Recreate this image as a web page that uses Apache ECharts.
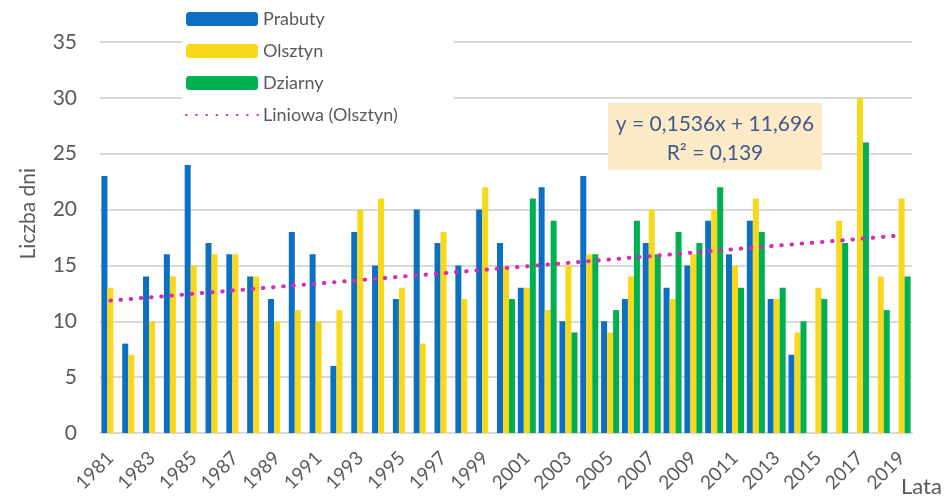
<!DOCTYPE html>
<html>
<head>
<meta charset="utf-8">
<script src="https://cdn.jsdelivr.net/npm/echarts@6/dist/echarts.min.js"></script>
<style>
  html, body { margin: 0; padding: 0; background: #fff; }
  #chart { width: 950px; height: 501px; }
</style>
</head>
<body>
<div id="chart"></div>
<script>
var years = [];
for (var y = 1981; y <= 2019; y++) years.push(String(y));

var prabuty = [23, 8, 14, 16, 24, 17, 16, 14, 12, 18, 16, 6, 18, 15, 12, 20, 17, 15, 20,
  17, 13, 22, 10, 23, 10, 12, 17, 13, 15, 19, 16, 19, 12, 7, null, null, null, null, null];
var olsztyn = [13, 7, 10, 14, 15, 16, 16, 14, 10, 11, 10, 11, 20, 21, 13, 8, 18, 12, 22,
  15, 13, 11, 15, 16, 9, 14, 20, 12, 16, 20, 15, 21, 12, 9, 13, 19, 30, 14, 21];
var dziarny = [null, null, null, null, null, null, null, null, null, null, null, null, null,
  null, null, null, null, null, null,
  12, 21, 19, 9, 16, 11, 19, 16, 18, 17, 22, 13, 18, 13, 10, 12, 17, 26, 11, 14];
// trend line read at first and last year
var trendEnds = [11.85, 17.69];

var trend = years.map(function (_, i) {
  if (i === 0) return trendEnds[0];
  if (i === years.length - 1) return trendEnds[1];
  return null;
});

var font = "Lato, 'Open Sans', sans-serif";
var myChart = echarts.init(document.getElementById("chart"));

function barSeries(name, data, color) {
  return {
    name: name,
    type: "bar",
    data: data,
    barWidth: 6,
    barGap: "0%",
    itemStyle: { color: color },
  };
}

var option = {
  animation: false,
  textStyle: { fontFamily: font },
  grid: { left: 100, right: 38, top: 42, bottom: 68 },
  legend: {
    orient: "vertical",
    left: 182,
    top: 4,
    padding: [6, 56, 10, 3],
    backgroundColor: "#fff",
    itemWidth: 72,
    itemHeight: 14,
    itemGap: 14,
    textStyle: { color: "#595959", fontSize: 18, fontFamily: font },
    data: [
      "Prabuty",
      "Olsztyn",
      "Dziarny",
      { name: "Liniowa (Olsztyn)", itemStyle: { opacity: 0 } },
    ],
  },
  xAxis: {
    type: "category",
    data: years,
    axisTick: { show: false },
    axisLine: { lineStyle: { color: "#d9d9d9", width: 2 } },
    axisLabel: {
      interval: 1,
      rotate: 45,
      color: "#595959",
      fontSize: 19,
      margin: 22,
    },
  },
  yAxis: {
    type: "value",
    min: 0,
    max: 35,
    interval: 5,
    axisLabel: { color: "#595959", fontSize: 21, margin: 23 },
    splitLine: { lineStyle: { color: "#d9d9d9", width: 2 } },
  },
  graphic: [
    {
      type: "text",
      left: 18,
      top: 168,
      rotation: Math.PI / 2,
      style: {
        text: "Liczba dni",
        fill: "#595959",
        font: "21px " + font,
      },
    },
    {
      type: "text",
      left: 901,
      top: 476,
      style: { text: "Lata", fill: "#595959", font: "22px " + font },
    },
    {
      type: "rect",
      x: 608,
      y: 103,
      z: 100,
      shape: { width: 214, height: 67 },
      style: { fill: "#fdebc8" },
    },
    {
      type: "text",
      x: 715,
      y: 110,
      z: 101,
      style: {
        text: "y = 0,1536x + 11,696\nR² = 0,139",
        fill: "#3f5a8c",
        font: "21px " + font,
        align: "center",
        lineHeight: 29,
      },
    },
  ],
  series: [
    barSeries("Prabuty", prabuty, "#0b6fc4"),
    barSeries("Olsztyn", olsztyn, "#f8d81a"),
    barSeries("Dziarny", dziarny, "#00af50"),
    {
      name: "Liniowa (Olsztyn)",
      type: "line",
      data: trend,
      connectNulls: true,
      symbol: "none",
      z: 5,
      itemStyle: { color: "#d62ab8" },
      lineStyle: { color: "#d62ab8", width: 4, type: [0.5, 9.7], cap: "round" },
    },
  ],
};

myChart.setOption(option);
</script>
</body>
</html>
